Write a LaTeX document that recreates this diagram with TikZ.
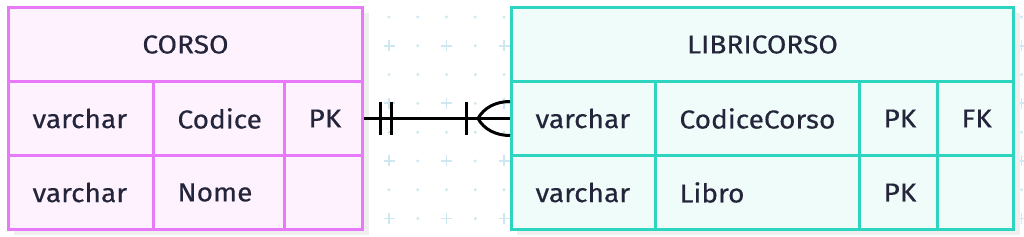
\documentclass[tikz,border=0pt]{standalone}
\usepackage{fontspec}
\setmainfont{Fira Sans}[FakeStretch=1.08, FakeBold=0.35]
\usetikzlibrary{calc}
\definecolor{txt}{HTML}{24243A}
\definecolor{pinkb}{HTML}{E879F9}
\definecolor{pinkf}{HTML}{FDF2FE}
\definecolor{tealb}{HTML}{2DD4BF}
\definecolor{tealf}{HTML}{EFFCF9}
\definecolor{shadowc}{HTML}{EFEFEF}
\definecolor{gridc}{HTML}{CFE7F1}
\tikzset{
  cell/.style={draw, line width=3pt, anchor=north west, minimum height=74pt,
    inner xsep=24pt, inner ysep=0pt, align=left, text=txt,
    font=\fontsize{26}{30}\selectfont},
  pcell/.style={cell, draw=pinkb, fill=pinkf},
  tcell/.style={cell, draw=tealb, fill=tealf},
  conn/.style={draw=black, line width=3pt},
}
\begin{document}
\begin{tikzpicture}[x=1pt,y=-1pt]
\useasboundingbox (0,0) rectangle (1024,237);
\fill[white] (0,0) rectangle (1024,237);
% background grid
\foreach \k in {-13,...,22}{
  \foreach \m in {0,...,7}{
    \pgfmathsetmacro{\gx}{389+28.75*\k}
    \pgfmathsetmacro{\gy}{17+28.8*\m}
    \pgfmathtruncatemacro{\isplus}{(mod(\m,2)==1 && mod(abs(\k),2)==0) ? 1 : 0}
    \ifnum\isplus=1
      \draw[gridc, line width=1.8pt] (\gx-5.5,\gy) -- (\gx+5.5,\gy) (\gx,\gy-5.5) -- (\gx,\gy+5.5);
    \else
      \fill[gridc] (\gx,\gy) circle (1.6);
    \fi
  }
}
% shadows
\fill[shadowc] (14,13) rectangle (369,235);
\fill[shadowc] (517,13) rectangle (1020,235);
% CORSO
\node[pcell, minimum width=354pt, text width=306pt, align=center] (cT) at (7,6) {CORSO};
\node[pcell, minimum width=145pt, text width=97pt] (cT1) at (7,80) {varchar};
\node[pcell, minimum width=131pt, text width=83pt] (cN1) at (152,80) {Codice};
\node[pcell, minimum width=78pt, text width=30pt] (cPK) at (283,80) {PK};
\node[pcell, minimum width=145pt, text width=97pt] (cT2) at (7,154) {varchar};
\node[pcell, minimum width=131pt, text width=83pt] (cN2) at (152,154) {Nome};
\node[pcell, minimum width=78pt, text width=30pt] (cK2) at (283,154) {};
% LIBRICORSO
\node[tcell, minimum width=502pt, text width=454pt, align=center] (lT) at (510,6) {LIBRICORSO};
\node[tcell, minimum width=144pt, text width=96pt] (lT1) at (510,80) {varchar};
\node[tcell, minimum width=204pt, text width=156pt] (lCC) at (654,80) {CodiceCorso};
\node[tcell, minimum width=78pt, text width=30pt] (lPK1) at (858,80) {PK};
\node[tcell, minimum width=76pt, text width=28pt] (lFK1) at (936,80) {FK};
\node[tcell, minimum width=144pt, text width=96pt] (lT2) at (510,154) {varchar};
\node[tcell, minimum width=204pt, text width=156pt] (lN2) at (654,154) {Libro};
\node[tcell, minimum width=78pt, text width=30pt] (lPK2) at (858,154) {PK};
\node[tcell, minimum width=76pt, text width=28pt] (lFK2) at (936,154) {};
% connector
\draw[conn] (cPK.east) -- (lT1.west);
\draw[conn] ($(cPK.east)+(16,-16.5)$) -- ++(0,33);
\draw[conn] ($(cPK.east)+(27,-16.5)$) -- ++(0,33);
\draw[conn] ($(lT1.west)+(-44,-16.5)$) -- ++(0,33);
\draw[conn] ($(lT1.west)+(-32,0)$) .. controls +(6,-11) and +(-14,0) .. ($(lT1.west)+(0,-17)$);
\draw[conn] ($(lT1.west)+(-32,0)$) .. controls +(6,11) and +(-14,0) .. ($(lT1.west)+(0,17)$);
\end{tikzpicture}
\end{document}
